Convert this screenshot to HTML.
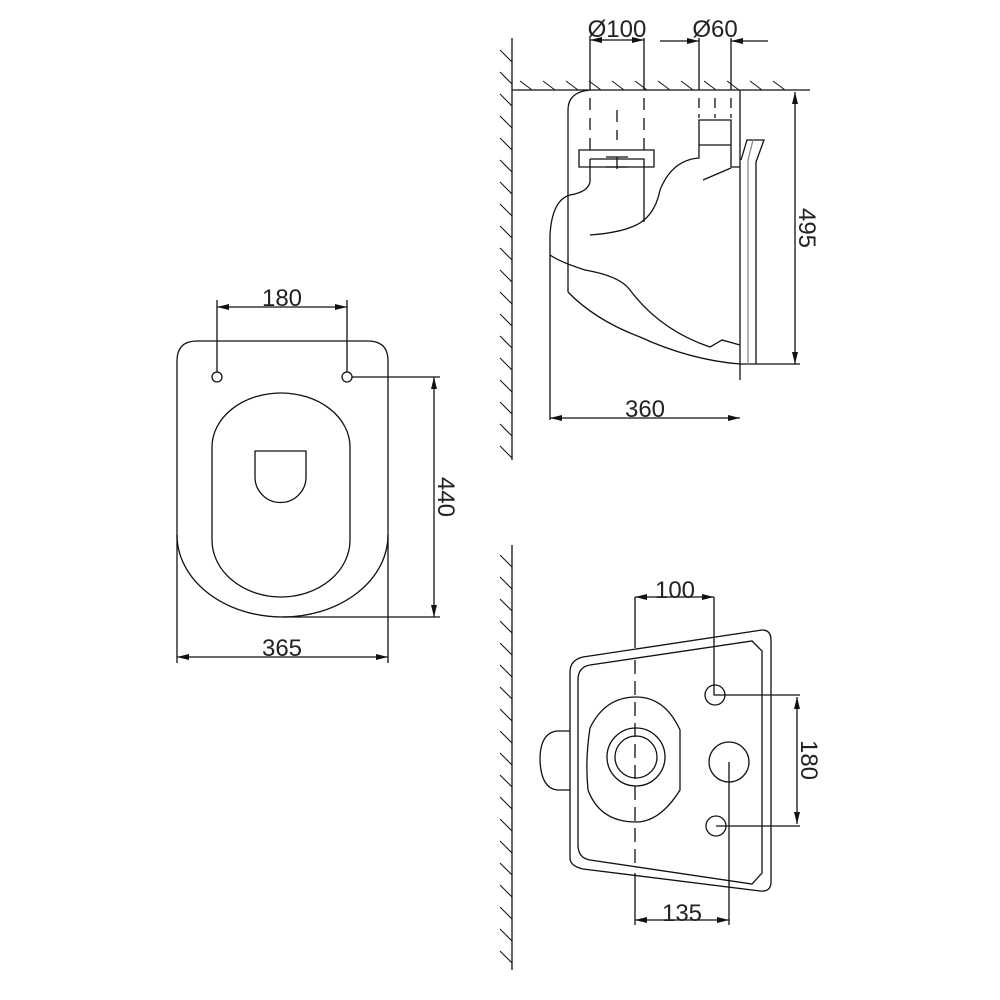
<!DOCTYPE html>
<html><head><meta charset="utf-8"><style>body{margin:0;background:#fff}svg{display:block}text{font-family:"Liberation Sans",sans-serif;font-size:24px;fill:#222;stroke:none;font-weight:normal}</style></head><body>
<svg width="1000" height="1000" viewBox="0 0 1000 1000" fill="none" stroke="#111" stroke-width="1.3">
<defs>
<marker id="a" viewBox="0 0 12 6" refX="12" refY="3" markerWidth="12" markerHeight="6" orient="auto-start-reverse" markerUnits="userSpaceOnUse"><path d="M0,0L12,3L0,6z" fill="#111" stroke="none"/></marker>
</defs>
<!-- LEFT VIEW -->
<path d="M177,535 V361 Q177,341 197,341 H368 Q388,341 388,361 V535"/>
<path d="M177,535 A105.5,82 0 0 0 388,535"/>
<path d="M212,447 A69,54 0 0 1 350,447 V540 A69,57 0 0 1 212,540 Z"/>
<path d="M255,451 H306 V477 A25.5,25.5 0 0 1 255,477 Z"/>
<circle cx="217" cy="377" r="5"/><circle cx="347" cy="377" r="5"/>
<path d="M217,300 V372 M347,300 V372"/>
<path d="M217,307 H347" marker-start="url(#a)" marker-end="url(#a)"/>
<text x="282" y="306" text-anchor="middle">180</text>
<path d="M352,377 H440 M282,617 H440"/>
<path d="M434,377 V617" marker-start="url(#a)" marker-end="url(#a)"/>
<text transform="translate(438,497) rotate(90)" text-anchor="middle">440</text>
<path d="M177,535 V663 M388,535 V663"/>
<path d="M177,657 H388" marker-start="url(#a)" marker-end="url(#a)"/>
<text x="282" y="656" text-anchor="middle">365</text>
<!-- TOP RIGHT SIDE VIEW -->
<path d="M512,38 V460"/>
<g stroke-width="1"><path d="M500,50 L512,62 M500,72 L512,84 M500,94 L512,106 M500,116 L512,128 M500,138 L512,150 M500,160 L512,172 M500,182 L512,194 M500,204 L512,216 M500,226 L512,238 M500,248 L512,260 M500,270 L512,282 M500,292 L512,304 M500,314 L512,326 M500,336 L512,348 M500,358 L512,370 M500,380 L512,392 M500,402 L512,414 M500,424 L512,436 M500,446 L512,458"/>
<path d="M520,81 L532,90 M543,81 L555,90 M566,81 L578,90 M589,81 L601,90 M612,81 L624,90 M635,81 L647,90 M658,81 L670,90 M681,81 L693,90 M704,81 L716,90 M727,81 L739,90 M750,81 L762,90 M773,81 L785,90"/></g>
<path d="M512,90 H810"/>
<path d="M590,38 V90 M644,38 V90 M699,38 V90 M731,38 V90"/>
<path d="M590,40 H644" marker-start="url(#a)" marker-end="url(#a)"/>
<path d="M660,41 H699" marker-end="url(#a)"/><path d="M768,41 H731" marker-end="url(#a)"/>
<text x="617" y="37" text-anchor="middle">Ø100</text>
<text x="715" y="37" text-anchor="middle">Ø60</text>
<path d="M590,90 Q568,92 568,110 V292"/>
<path d="M740,90 V380"/>
<path d="M590,98 V150 M644,98 V150 M617,110 V140 M617,157 V175" stroke-dasharray="12,8"/>
<path d="M579,150 H654 V167 H579 Z M590,159 H644 V222 M590,159 V182 Q588,192 570,195 Q552,200 550,235 V420"/>
<path d="M606,157 H628 M606,167 H628"/>
<path d="M590,235 Q630,232 644,220 Q656,210 660,190 Q672,160 699,158 V120 H731 V167 H740 M699,145 H731"/>
<path d="M699,98 V118 M715,98 V118 M731,98 V118" stroke-dasharray="10,6"/>
<path d="M703,180 L731,168"/>
<path d="M550,255 Q560,262 585,270 Q620,276 630,290 Q660,330 710,347 L722,340 L740,345"/>
<path d="M568,292 Q595,320 640,337 Q690,360 740,364 H800"/>
<path d="M741,160 L747,140 H764 L756,162 V364" />
<path d="M748,364 V160 L753,140" stroke="#888"/>
<path d="M795,92 V364" marker-start="url(#a)" marker-end="url(#a)"/>
<text transform="translate(799,228) rotate(90)" text-anchor="middle">495</text>
<path d="M550,418 H740" marker-start="url(#a)" marker-end="url(#a)"/>
<text x="645" y="417" text-anchor="middle">360</text>
<!-- BOTTOM RIGHT VIEW -->
<path d="M512,545 V970"/>
<g stroke-width="1"><path d="M500,555 L512,567 M500,577 L512,589 M500,599 L512,611 M500,621 L512,633 M500,643 L512,655 M500,665 L512,677 M500,687 L512,699 M500,709 L512,721 M500,731 L512,743 M500,753 L512,765 M500,775 L512,787 M500,797 L512,809 M500,819 L512,831 M500,841 L512,853 M500,863 L512,875 M500,885 L512,897 M500,907 L512,919 M500,929 L512,941 M500,951 L512,963"/></g>
<path d="M570,858 V672 Q570,660 583,657 L762,630 Q771,630 771,640 V882 Q771,892 760,891 L583,869 Q570,866 570,858 Z"/>
<path d="M578,845 V680 Q578,667 590,665 L752,641 L762,651 V873 L752,884 L590,860 Q578,858 578,845 Z"/>
<path d="M570,731 H557 Q540,733 540,760 Q541,788 557,790 H570"/>
<path d="M636,697 Q665,697 680,730 V790 Q660,822 636,822 Q600,822 588,790 Q585,760 590,728 Q605,697 636,697 Z"/>
<circle cx="636" cy="757" r="29"/><circle cx="636" cy="757" r="21"/>
<circle cx="715" cy="695" r="10"/><circle cx="729" cy="762" r="20"/><circle cx="716" cy="826" r="10"/>
<path d="M635,597 V648 M635,873 V925"/>
<path d="M635,660 V866" stroke-dasharray="14,7"/>
<path d="M714,597 V695 H800 M716,826 H800 M729,762 V925"/>
<path d="M635,597 H714" marker-start="url(#a)" marker-end="url(#a)"/>
<text x="675" y="598" text-anchor="middle">100</text>
<path d="M635,920 H729" marker-start="url(#a)" marker-end="url(#a)"/>
<text x="682" y="921" text-anchor="middle">135</text>
<path d="M797,697 V824" marker-start="url(#a)" marker-end="url(#a)"/>
<text transform="translate(801,760) rotate(90)" text-anchor="middle">180</text>
</svg>
</body></html>
